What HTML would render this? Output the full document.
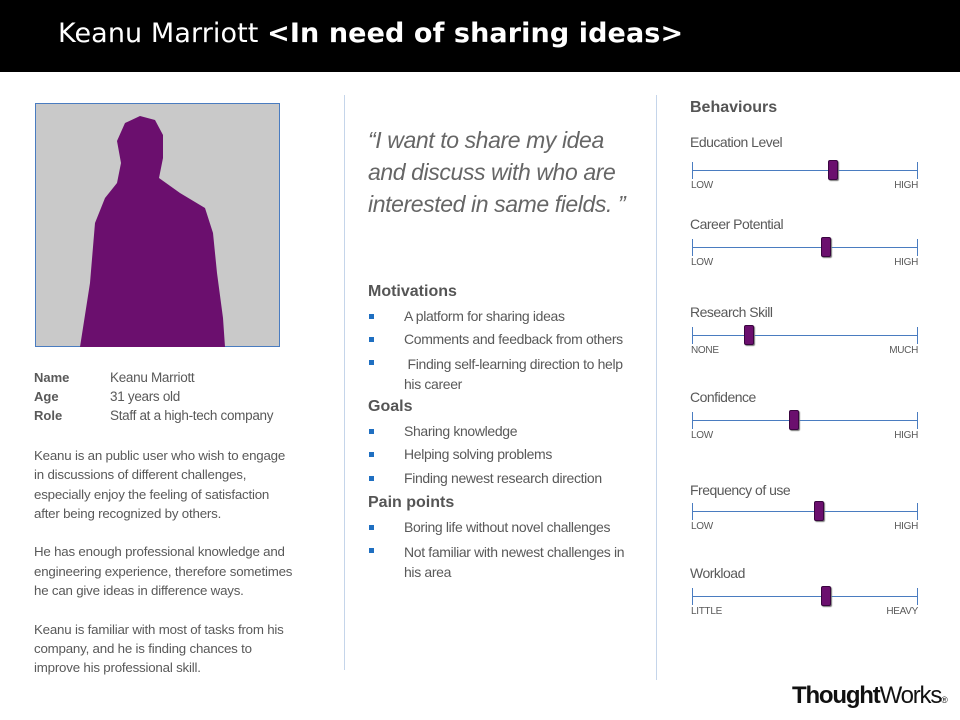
<!DOCTYPE html>
<html><head><meta charset="utf-8"><style>
body{margin:0;width:960px;height:720px;background:#fff;position:relative;overflow:hidden;font-family:"Liberation Sans",sans-serif;color:#595959}
.a{position:absolute;white-space:nowrap}
.h{font-weight:bold;font-size:16px;color:#555}
.li{position:absolute;font-size:14px;color:#595959;letter-spacing:-0.35px}
.sq{position:absolute;width:5px;height:5px;background:#1f6fc1}
.t{font-size:14px;letter-spacing:-0.5px}
.s{font-size:10px;letter-spacing:-0.3px}
</style></head><body>
<div class="a" style="left:0;top:0;width:960px;height:72px;background:#000"></div>
<div class="a" style="left:58px;top:18px;font-size:27px;color:#fff;font-family:'DejaVu Sans',sans-serif;letter-spacing:0.1px">Keanu Marriott <b>&lt;In need of sharing ideas&gt;</b></div>

<svg class="a" style="left:35px;top:103px" width="246" height="245">
<rect x="0.5" y="0.5" width="244" height="243" fill="#c9c9c9" stroke="#4a7cc0"/>
<path d="M45 244 L55 180 L60 120 L70 95 L82 80 L86 60 L82 38 L90 20 L105 13 L120 17 L128 32 L128 55 L124 75 L145 90 L170 105 L178 130 L182 170 L188 215 L190 244 Z" fill="#6b0f6e"/>
</svg>

<div class="a" style="left:34px;top:368px;font-size:13px;line-height:19px">
<b>Name</b><br><b>Age</b><br><b>Role</b></div>
<div class="a" style="left:110px;top:368px;font-size:13.5px;line-height:19px;letter-spacing:-0.3px">Keanu Marriott<br>31 years old<br>Staff at a high-tech company</div>
<div class="a" style="left:34px;top:446px;font-size:13.3px;line-height:19.3px;letter-spacing:-0.2px">Keanu is an public user who wish to engage<br>in discussions of different challenges,<br>especially enjoy the feeling of satisfaction<br>after being recognized by others.<br><br>He has enough professional knowledge and<br>engineering experience, therefore sometimes<br>he can give ideas in difference ways.<br><br>Keanu is familiar with most of tasks from his<br>company, and he is finding chances to<br>improve his professional skill.</div>

<div class="a" style="left:344px;top:95px;width:1px;height:575px;background:#c5d5ea"></div>
<div class="a" style="left:656px;top:95px;width:1px;height:585px;background:#c5d5ea"></div>

<div class="a" style="left:368px;top:124px;font-size:23px;line-height:32px;font-style:italic;color:#666;letter-spacing:-0.4px">“I want to share my idea<br>and discuss with who are<br>interested in same fields. ”</div>

<div class="a h" style="left:368px;top:283px">Motivations</div>
<div class="sq" style="left:369px;top:314px"></div><div class="li" style="left:404px;top:308px">A platform for sharing ideas</div>
<div class="sq" style="left:369px;top:337px"></div><div class="li" style="left:404px;top:331px">Comments and feedback from others</div>
<div class="sq" style="left:369px;top:360px"></div><div class="li" style="left:404px;top:354px;line-height:20px">&nbsp;Finding self-learning direction to help<br>his career</div>
<div class="a h" style="left:368px;top:398px">Goals</div>
<div class="sq" style="left:369px;top:429px"></div><div class="li" style="left:404px;top:423px">Sharing knowledge</div>
<div class="sq" style="left:369px;top:452px"></div><div class="li" style="left:404px;top:446px">Helping solving problems</div>
<div class="sq" style="left:369px;top:476px"></div><div class="li" style="left:404px;top:470px">Finding newest research direction</div>
<div class="a h" style="left:368px;top:494px">Pain points</div>
<div class="sq" style="left:369px;top:525px"></div><div class="li" style="left:404px;top:519px">Boring life without novel challenges</div>
<div class="sq" style="left:369px;top:548px"></div><div class="li" style="left:404px;top:542px;line-height:20px">Not familiar with newest challenges in<br>his area</div>

<div class="a h" style="left:690px;top:99px">Behaviours</div>
<div id="sliders"></div>

<div class="a" style="left:792px;top:682px;font-size:24px;color:#111;letter-spacing:-1.2px"><b>Thought</b>Works<span style="font-size:9px">®</span></div>

<script>
const labels=["Education Level","Career Potential","Research Skill","Confidence","Frequency of use","Workload"];
const values=[0.62,0.59,0.25,0.45,0.56,0.59];
const lowLabels=["LOW","LOW","NONE","LOW","LOW","LITTLE"];
const highLabels=["HIGH","HIGH","MUCH","HIGH","HIGH","HEAVY"];
const tops=[134,216,304,389,482,565];
const x0=692,x1=917;
const root=document.getElementById('sliders');
function xs(v){return x0+(x1-x0)*v;}
labels.forEach((l,i)=>{
  const y=tops[i];
  const d=document.createElement('div');
  d.className='a t';d.style.left='690px';d.style.top=y+'px';d.textContent=l;
  
  
  root.appendChild(d);
  const trackY=[170,247,335,420,511,596][i];
  const tr=document.createElement('div');
  tr.className='a';tr.style.cssText=`left:${x0}px;top:${trackY}px;width:${x1-x0}px;height:1px;background:#4a7cc0`;
  
  
  root.appendChild(tr);
  [x0,x1].forEach(x=>{const e=document.createElement('div');e.className='a';e.style.cssText=`left:${x}px;top:${trackY-8}px;width:1px;height:17px;background:#4a7cc0`;
  
  
  root.appendChild(e);});
  const h=document.createElement('div');
  h.className='a';h.style.cssText=`left:${xs(values[i])-4}px;top:${trackY-10}px;width:8px;height:18px;background:#6b0f6e;border:1px solid #3a0540;border-radius:2px;box-shadow:1px 1px 1px #777`;
  
  
  root.appendChild(h);
  const lo=document.createElement('div');lo.className='a s';lo.style.left='691px';lo.style.top=(trackY+10)+'px';lo.textContent=lowLabels[i];
  
  
  root.appendChild(lo);
  const hi=document.createElement('div');hi.className='a s';hi.style.right=(960-918)+'px';hi.style.top=(trackY+10)+'px';hi.textContent=highLabels[i];
  
  
  root.appendChild(hi);
});
</script>
</body></html>
